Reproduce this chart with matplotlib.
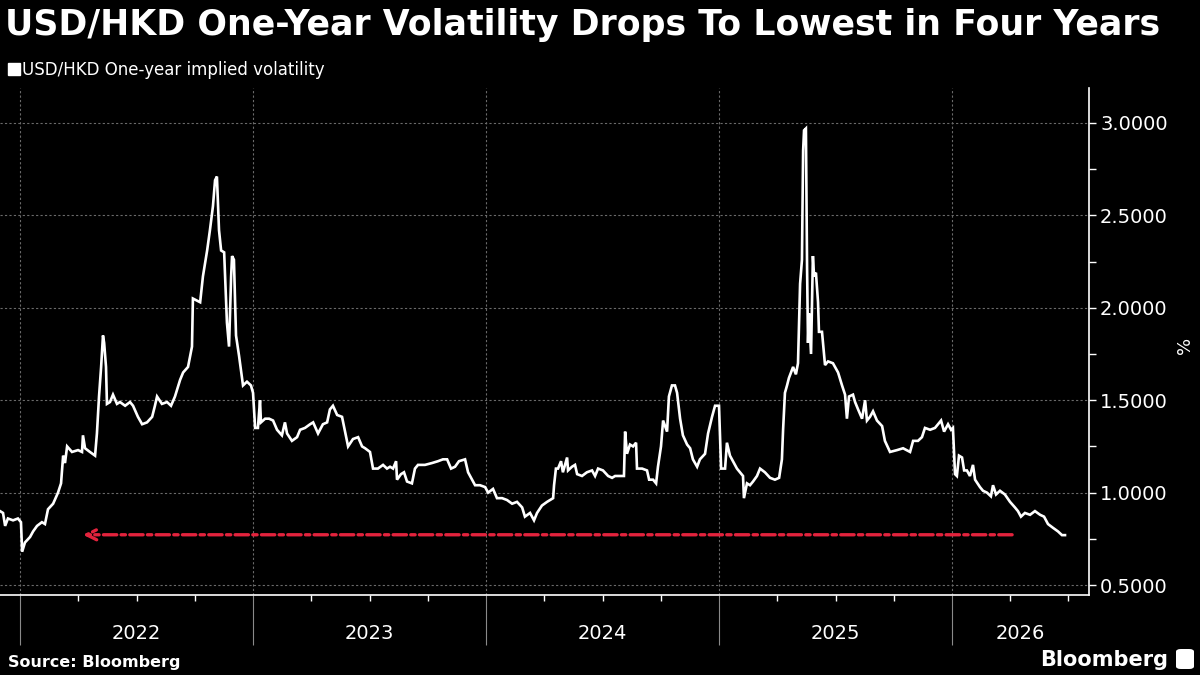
import matplotlib
matplotlib.use("Agg")
import matplotlib.pyplot as plt
from matplotlib.lines import Line2D
from matplotlib.patches import FancyBboxPatch
import matplotlib.transforms as mtransforms

# ================= DATA =================
years = [
    2021.914, 2021.927, 2021.936, 2021.948, 2021.970, 2021.991, 2022.004, 2022.009, 2022.021, 2022.043,
    2022.056, 2022.073, 2022.094, 2022.107, 2022.120, 2022.142, 2022.163, 2022.176, 2022.185, 2022.193,
    2022.202, 2022.223, 2022.249, 2022.266, 2022.270, 2022.279, 2022.300, 2022.322, 2022.330, 2022.339,
    2022.348, 2022.356, 2022.361, 2022.369, 2022.373, 2022.386, 2022.399, 2022.416, 2022.429, 2022.451,
    2022.472, 2022.485, 2022.506, 2022.524, 2022.545, 2022.567, 2022.579, 2022.588, 2022.609, 2022.631,
    2022.648, 2022.665, 2022.687, 2022.700, 2022.721, 2022.738, 2022.742, 2022.773, 2022.785, 2022.803,
    2022.815, 2022.828, 2022.837, 2022.845, 2022.854, 2022.863, 2022.876, 2022.888, 2022.897, 2022.906,
    2022.910, 2022.918, 2022.927, 2022.940, 2022.957, 2022.974, 2022.991, 2023.000, 2023.009, 2023.021,
    2023.030, 2023.034, 2023.052, 2023.069, 2023.086, 2023.103, 2023.124, 2023.137, 2023.146, 2023.167,
    2023.189, 2023.202, 2023.223, 2023.245, 2023.258, 2023.279, 2023.300, 2023.318, 2023.330, 2023.343,
    2023.361, 2023.382, 2023.395, 2023.408, 2023.429, 2023.451, 2023.468, 2023.481, 2023.502, 2023.515,
    2023.536, 2023.558, 2023.575, 2023.588, 2023.601, 2023.614, 2023.618, 2023.635, 2023.648, 2023.661,
    2023.682, 2023.695, 2023.708, 2023.738, 2023.768, 2023.794, 2023.815, 2023.833, 2023.850, 2023.867,
    2023.884, 2023.910, 2023.923, 2023.940, 2023.953, 2023.974, 2023.996, 2024.009, 2024.030, 2024.047,
    2024.069, 2024.090, 2024.112, 2024.133, 2024.155, 2024.167, 2024.189, 2024.206, 2024.219, 2024.240,
    2024.262, 2024.275, 2024.288, 2024.292, 2024.300, 2024.309, 2024.322, 2024.330, 2024.348, 2024.352,
    2024.369, 2024.382, 2024.391, 2024.412, 2024.433, 2024.455, 2024.468, 2024.481, 2024.502, 2024.524,
    2024.541, 2024.554, 2024.575, 2024.592, 2024.597, 2024.605, 2024.618, 2024.631, 2024.644, 2024.648,
    2024.670, 2024.691, 2024.700, 2024.717, 2024.730, 2024.738, 2024.751, 2024.760, 2024.777, 2024.785,
    2024.798, 2024.811, 2024.820, 2024.833, 2024.845, 2024.863, 2024.876, 2024.888, 2024.906, 2024.918,
    2024.940, 2024.953, 2024.970, 2024.983, 2025.000, 2025.009, 2025.026, 2025.034, 2025.047, 2025.060,
    2025.077, 2025.090, 2025.103, 2025.107, 2025.120, 2025.133, 2025.146, 2025.163, 2025.176, 2025.197,
    2025.219, 2025.240, 2025.258, 2025.270, 2025.275, 2025.283, 2025.292, 2025.300, 2025.318, 2025.330,
    2025.339, 2025.348, 2025.356, 2025.361, 2025.365, 2025.373, 2025.378, 2025.382, 2025.386, 2025.395,
    2025.403, 2025.408, 2025.416, 2025.425, 2025.429, 2025.442, 2025.455, 2025.468, 2025.489, 2025.511,
    2025.528, 2025.541, 2025.549, 2025.558, 2025.575, 2025.584, 2025.597, 2025.614, 2025.627, 2025.635,
    2025.648, 2025.661, 2025.678, 2025.700, 2025.712, 2025.734, 2025.764, 2025.790, 2025.820, 2025.833,
    2025.854, 2025.871, 2025.884, 2025.906, 2025.927, 2025.940, 2025.953, 2025.966, 2025.983, 2025.996,
    2026.004, 2026.013, 2026.021, 2026.030, 2026.043, 2026.052, 2026.064, 2026.077, 2026.090, 2026.099,
    2026.120, 2026.133, 2026.150, 2026.167, 2026.176, 2026.189, 2026.206, 2026.227, 2026.249, 2026.270,
    2026.283, 2026.296, 2026.313, 2026.335, 2026.356, 2026.378, 2026.395, 2026.412, 2026.433, 2026.455,
    2026.472, 2026.485,
]
vol = [
    0.90, 0.89, 0.82, 0.86, 0.85, 0.86, 0.84, 0.68, 0.73, 0.76,
    0.79, 0.82, 0.84, 0.83, 0.91, 0.94, 1.00, 1.05, 1.20, 1.16,
    1.25, 1.22, 1.23, 1.22, 1.31, 1.24, 1.22, 1.20, 1.32, 1.52,
    1.68, 1.85, 1.81, 1.68, 1.48, 1.49, 1.53, 1.48, 1.49, 1.47,
    1.49, 1.47, 1.41, 1.37, 1.38, 1.41, 1.47, 1.52, 1.48, 1.49,
    1.47, 1.52, 1.61, 1.65, 1.68, 1.79, 2.05, 2.03, 2.17, 2.31,
    2.42, 2.55, 2.69, 2.71, 2.42, 2.31, 2.30, 1.92, 1.79, 2.17,
    2.28, 2.26, 1.85, 1.74, 1.58, 1.60, 1.58, 1.54, 1.35, 1.35,
    1.50, 1.38, 1.40, 1.40, 1.39, 1.34, 1.31, 1.38, 1.32, 1.28,
    1.30, 1.34, 1.35, 1.37, 1.38, 1.32, 1.37, 1.38, 1.45, 1.47,
    1.42, 1.41, 1.33, 1.25, 1.29, 1.30, 1.25, 1.24, 1.22, 1.13,
    1.13, 1.15, 1.13, 1.14, 1.13, 1.17, 1.07, 1.10, 1.11, 1.06,
    1.05, 1.13, 1.15, 1.15, 1.16, 1.17, 1.18, 1.18, 1.13, 1.14,
    1.17, 1.18, 1.11, 1.07, 1.04, 1.04, 1.03, 1.00, 1.02, 0.97,
    0.97, 0.96, 0.94, 0.95, 0.92, 0.87, 0.89, 0.85, 0.89, 0.93,
    0.95, 0.96, 0.97, 1.04, 1.13, 1.13, 1.17, 1.11, 1.19, 1.12,
    1.14, 1.15, 1.10, 1.09, 1.11, 1.12, 1.09, 1.13, 1.12, 1.09,
    1.08, 1.09, 1.09, 1.09, 1.33, 1.21, 1.26, 1.25, 1.27, 1.13,
    1.13, 1.12, 1.07, 1.07, 1.05, 1.14, 1.25, 1.39, 1.33, 1.52,
    1.58, 1.58, 1.54, 1.40, 1.31, 1.26, 1.24, 1.18, 1.14, 1.18,
    1.21, 1.32, 1.41, 1.47, 1.47, 1.13, 1.13, 1.27, 1.20, 1.17,
    1.13, 1.11, 1.09, 0.97, 1.05, 1.04, 1.06, 1.09, 1.13, 1.11,
    1.08, 1.07, 1.08, 1.18, 1.34, 1.54, 1.58, 1.62, 1.68, 1.64,
    1.70, 2.13, 2.26, 2.85, 2.96, 2.97, 2.21, 1.81, 1.97, 1.75,
    2.28, 2.17, 2.19, 2.03, 1.87, 1.87, 1.69, 1.71, 1.70, 1.65,
    1.58, 1.53, 1.40, 1.52, 1.53, 1.49, 1.45, 1.40, 1.50, 1.39,
    1.41, 1.44, 1.39, 1.36, 1.28, 1.22, 1.23, 1.24, 1.22, 1.28,
    1.28, 1.30, 1.35, 1.34, 1.35, 1.37, 1.39, 1.33, 1.37, 1.34,
    1.35, 1.10, 1.09, 1.20, 1.19, 1.12, 1.12, 1.09, 1.15, 1.07,
    1.03, 1.01, 1.00, 0.98, 1.04, 0.99, 1.01, 0.99, 0.95, 0.92,
    0.90, 0.87, 0.89, 0.88, 0.90, 0.88, 0.87, 0.83, 0.81, 0.79,
    0.77, 0.77,
]

year_labels = ["2022", "2023", "2024", "2025", "2026"]
year_starts = [2022, 2023, 2024, 2025, 2026]
y_ticks = [0.5, 1.0, 1.5, 2.0, 2.5, 3.0]

# red arrow: current level carried back to the last time it was this low
arrow_level = 0.772
arrow_from = 4.258 + 2022
arrow_to = 0.270 + 2022

title = "USD/HKD One-Year Volatility Drops To Lowest in Four Years"
series_name = "USD/HKD One-year implied volatility"

# ================= FIGURE =================
plt.rcParams['font.family'] = ['DejaVu Sans']
fig = plt.figure(figsize=(12, 6.75), dpi=100, facecolor='black')
ax = fig.add_axes([0.0, 0.1185, 0.9075, 0.7511], facecolor='black')

x_min, x_max = 2021.914, 2026.588
y_min, y_max = 0.446, 3.189

ax.plot(years, vol, color='white', lw=1.9, solid_joinstyle='miter')

ax.annotate('', xy=(arrow_to, arrow_level), xytext=(arrow_from, arrow_level),
            arrowprops=dict(arrowstyle='->', color='#e3233d', lw=2.4,
                            linestyle=(0, (4, 1.3, 1.3, 1.3)),
                            mutation_scale=18, shrinkA=0, shrinkB=0))

ax.set_xlim(x_min, x_max)
ax.set_ylim(y_min, y_max)

# y axis on the right
ax.yaxis.tick_right()
ax.set_yticks(y_ticks)
ax.set_yticklabels([f"{v:.4f}" for v in y_ticks])
ax.set_yticks([v + 0.25 for v in y_ticks[:-1]], minor=True)
ax.tick_params(axis='y', which='both', colors='white', length=5, width=1,
               labelsize=14, pad=3, direction='out')

# x axis: long separators at year starts, quarter ticks
ax.set_xticks(year_starts)
ax.set_xticklabels([])
quarters = [y + q for y in [2022, 2023, 2024, 2025, 2026] for q in (0.25, 0.5, 0.75)
            if y + q < x_max]
ax.set_xticks(quarters, minor=True)
ax.tick_params(axis='x', which='major', length=36, width=0.8, color='#8a8a8a')
ax.tick_params(axis='x', which='minor', length=4, width=1, color='white')

trans = mtransforms.blended_transform_factory(ax.transData, ax.transAxes)
bounds = year_starts + [x_max]
for i, lab in enumerate(year_labels):
    ax.text((bounds[i] + bounds[i + 1]) / 2, -0.075, lab, transform=trans,
            color='white', fontsize=14, ha='center', va='center')

ax.grid(True, which='major', color='#6a6a6a', lw=0.8, linestyle=(0, (2, 2)))

for s in ['top', 'left']:
    ax.spines[s].set_visible(False)
ax.spines['right'].set_color('white')
ax.spines['bottom'].set_color('white')
ax.spines['right'].set_linewidth(1.2)
ax.spines['bottom'].set_linewidth(1.2)

# texts
fig.text(0.004, 1 - 25 / 675, title, color='white', fontsize=25, fontweight='bold',
         va='center', ha='left')

handle = Line2D([], [], marker='s', color='white', linestyle='none', markersize=9)
fig.legend([handle], [series_name], loc='center left', bbox_to_anchor=(0.003, 1 - 70 / 675),
           frameon=False, fontsize=12, labelcolor='white', handletextpad=0.1,
           handlelength=0.8, borderaxespad=0, borderpad=0.2)

fig.text(1185 / 1200, 1 - 345 / 675, '%', color='white', fontsize=13, rotation=90,
         va='center', ha='center')

fig.text(8 / 1200, 1 - 662 / 675, 'Source: Bloomberg', color='white', fontsize=11.5,
         fontweight='bold', va='center', ha='left')
fig.text(1168 / 1200, 1 - 660 / 675, 'Bloomberg', color='white', fontsize=15,
         fontweight='bold', va='center', ha='right')
fig.patches.append(FancyBboxPatch((1176 / 1200, 1 - 669 / 675), 18 / 1200, 20 / 675,
                                  boxstyle='round,pad=0,rounding_size=0.004',
                                  transform=fig.transFigure, facecolor='white',
                                  edgecolor='none'))

fig.savefig('out.png', dpi=100, facecolor='black')
